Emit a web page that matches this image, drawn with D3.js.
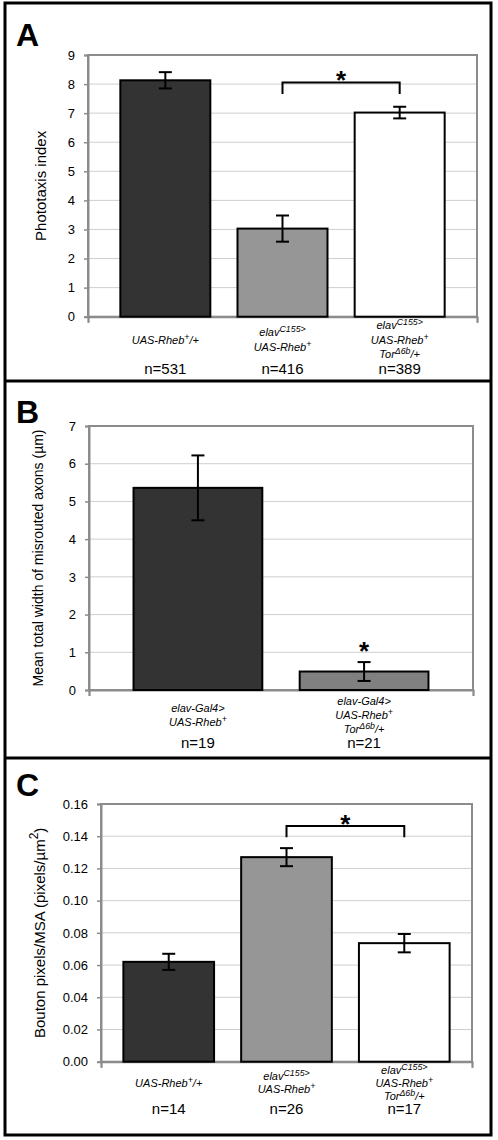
<!DOCTYPE html>
<html><head><meta charset="utf-8">
<script src="https://cdn.jsdelivr.net/npm/d3@7"></script>
<style>
body{margin:0;background:#fff}
text{font-family:"Liberation Sans",Arial,Helvetica,sans-serif}
</style>
</head><body>
<svg id="chart" width="498" height="1140"></svg>
<script>
// ---------- data ----------
const categoriesA = ["UAS-Rheb^{+}/+", "elav^{C155>}|UAS-Rheb^{+}", "elav^{C155>}|UAS-Rheb^{+}|Tor^{Δ6b}/+"];
const valuesA = [8.13, 3.03, 7.02];
const errorsA = [0.28, 0.45, 0.20];
const countsA = ["n=531", "n=416", "n=389"];
const ticksA = [0, 1, 2, 3, 4, 5, 6, 7, 8, 9];

const categoriesB = ["elav-Gal4>|UAS-Rheb^{+}", "elav-Gal4>|UAS-Rheb^{+}|Tor^{Δ6b}/+"];
const valuesB = [5.36, 0.49];
const errorsB = [0.86, 0.25];
const countsB = ["n=19", "n=21"];
const ticksB = [0, 1, 2, 3, 4, 5, 6, 7];

const categoriesC = ["UAS-Rheb^{+}/+", "elav^{C155>}|UAS-Rheb^{+}", "elav^{C155>}|UAS-Rheb^{+}|Tor^{Δ6b}/+"];
const valuesC = [0.062, 0.127, 0.0736];
const errorsC = [0.005, 0.0056, 0.0057];
const countsC = ["n=14", "n=26", "n=17"];
const ticksC = [0, 0.02, 0.04, 0.06, 0.08, 0.10, 0.12, 0.14, 0.16];

// ---------- drawing ----------
const svg = d3.select("#chart");
svg.append("rect").attr("width", 498).attr("height", 1140).attr("fill", "#fff");

// appends a line with ^{...} superscripts into a text element
function richLine(textSel, str, size) {
  const parts = str.split(/(\^\{[^}]*\})/).filter(s => s.length);
  let up = false;
  parts.forEach(p => {
    const m = p.match(/^\^\{([^}]*)\}$/);
    if (m) {
      textSel.append("tspan").attr("dy", -size * 0.36).attr("font-size", size * 0.8).text(m[1]);
      up = true;
    } else {
      const t = textSel.append("tspan");
      if (up) { t.attr("dy", size * 0.36); up = false; }
      t.text(p);
    }
  });
}

function panel(cfg) {
  const g = svg.append("g");
  const y = d3.scaleLinear().domain(cfg.domain).range([cfg.bottom, cfg.top]);
  const x = d3.scaleBand().domain(d3.range(cfg.values.length))
    .range([cfg.left, cfg.right]).paddingInner(cfg.padIn).paddingOuter(cfg.padOut);

  // gridlines
  g.selectAll(".grid").data(cfg.ticks.slice(1)).enter().append("line")
    .attr("x1", cfg.left).attr("x2", cfg.right)
    .attr("y1", d => y(d)).attr("y2", d => y(d))
    .attr("stroke", "#cfcfcf").attr("stroke-width", 1);

  // plot frame
  g.append("rect").attr("x", cfg.left).attr("y", cfg.top)
    .attr("width", cfg.right - cfg.left).attr("height", cfg.bottom - cfg.top)
    .attr("fill", "none").attr("stroke", "#8c8c8c").attr("stroke-width", 2);

  // y axis
  const yAxis = d3.axisLeft(y).tickValues(cfg.ticks).tickFormat(cfg.fmt).tickSize(4).tickPadding(9);
  const ya = g.append("g").attr("transform", `translate(${cfg.left},0)`).call(yAxis);
  ya.select(".domain").attr("stroke", "#8c8c8c").attr("stroke-width", 2);
  ya.selectAll(".tick line").attr("stroke", "#8c8c8c").attr("stroke-width", 1.5);
  ya.selectAll(".tick text").attr("font-size", cfg.tickSize).attr("fill", "#000")
    .style("font-family", '"Liberation Sans",Arial,sans-serif');

  // x axis end ticks
  const xAxis = d3.axisBottom(d3.scaleLinear().domain([0, 1]).range([cfg.left, cfg.right]))
    .tickValues([0, 1]).tickFormat("").tickSize(6);
  const xa = g.append("g").attr("transform", `translate(0,${cfg.bottom})`).call(xAxis);
  xa.select(".domain").attr("stroke", "#8c8c8c").attr("stroke-width", 2);
  xa.selectAll(".tick line").attr("stroke", "#8c8c8c").attr("stroke-width", 1.5);

  // bars
  g.selectAll(".bar").data(cfg.values).enter().append("rect")
    .attr("x", (d, i) => x(i)).attr("width", x.bandwidth())
    .attr("y", d => y(d)).attr("height", d => y(cfg.domain[0]) - y(d))
    .attr("fill", (d, i) => cfg.fills[i]).attr("stroke", "#000").attr("stroke-width", 2);

  // error bars
  const cap = 6.5;
  cfg.values.forEach((v, i) => {
    const cx = x(i) + x.bandwidth() / 2;
    const e = cfg.errors[i];
    g.append("line").attr("x1", cx).attr("x2", cx).attr("y1", y(v + e)).attr("y2", y(v - e))
      .attr("stroke", "#000").attr("stroke-width", 2);
    [v + e, v - e].forEach(w => g.append("line").attr("x1", cx - cap).attr("x2", cx + cap)
      .attr("y1", y(w)).attr("y2", y(w)).attr("stroke", "#000").attr("stroke-width", 2));
  });

  // category labels
  cfg.cats.forEach((c, i) => {
    const lines = c.split("|");
    const cx = x(i) + x.bandwidth() / 2;
    const n = lines.length;
    lines.forEach((ln, k) => {
      const by = cfg.bottom + cfg.labelMid + (k - (n - 1) / 2) * cfg.lh;
      const t = g.append("text").attr("x", cx).attr("y", by).attr("text-anchor", "middle")
        .attr("font-size", 11).attr("font-style", "italic").attr("fill", "#000");
      richLine(t, ln, 11);
    });
    g.append("text").attr("x", cx).attr("y", cfg.bottom + cfg.nOff).attr("text-anchor", "middle")
      .attr("font-size", 15).attr("fill", "#000").text(cfg.counts[i]);
  });

  // y title
  const tt = g.append("text").attr("transform", `translate(${cfg.titleX},${(cfg.top + cfg.bottom) / 2}) rotate(-90)`)
    .attr("text-anchor", "middle").attr("dominant-baseline", "central")
    .attr("font-size", cfg.titleSize).attr("fill", "#000");
  richLine(tt, cfg.title, cfg.titleSize);

  // panel letter
  g.append("text").attr("x", 16).attr("y", cfg.letterY).attr("font-size", 32)
    .attr("font-weight", "bold").attr("fill", "#000").text(cfg.letter);

  // significance
  if (cfg.bracket) {
    const [a, b, lev, drop] = cfg.bracket;
    const xa1 = x(a) + x.bandwidth() / 2, xb1 = x(b) + x.bandwidth() / 2;
    g.append("path").attr("d", `M${xa1},${y(lev - drop)}V${y(lev)}H${xb1}V${y(lev - drop)}`)
      .attr("fill", "none").attr("stroke", "#000").attr("stroke-width", 2);
    g.append("text").attr("x", (xa1 + xb1) / 2).attr("y", y(lev) - 7.5 + 14)
      .attr("text-anchor", "middle").attr("font-size", 26).attr("font-weight", "bold").text("*");
  }
  if (cfg.star !== undefined) {
    const i = cfg.star;
    const cx = x(i) + x.bandwidth() / 2;
    g.append("text").attr("x", cx).attr("y", y(cfg.values[i] + cfg.errors[i]) - 16 + 14)
      .attr("text-anchor", "middle").attr("font-size", 26).attr("font-weight", "bold").text("*");
  }
}

panel({
  cats: categoriesA, values: valuesA, errors: errorsA, counts: countsA, ticks: ticksA,
  domain: [0, 9], fmt: d3.format("d"), left: 88, right: 477, top: 55, bottom: 316.7,
  padIn: 0.232, padOut: 0.276, fills: ["#333333", "#969696", "#ffffff"],
  labelMid: 27, lh: 14.5, nOff: 57, title: "Phototaxis index", titleX: 40, titleSize: 15,
  tickSize: 13, letter: "A", letterY: 46, bracket: [1, 2, 8.05, 0.39]
});
panel({
  cats: categoriesB, values: valuesB, errors: errorsB, counts: countsB, ticks: ticksB,
  domain: [0, 7], fmt: d3.format("d"), left: 89, right: 473, top: 426, bottom: 690,
  padIn: 0.225, padOut: 0.268, fills: ["#333333", "#808080"],
  labelMid: 28.5, lh: 14, nOff: 58, title: "Mean total width of misrouted axons (µm)", titleX: 38, titleSize: 14,
  tickSize: 13, letter: "B", letterY: 423, star: 1
});
panel({
  cats: categoriesC, values: valuesC, errors: errorsC, counts: countsC, ticks: ticksC,
  domain: [0, 0.16], fmt: d3.format(".2f"), left: 101, right: 472, top: 804, bottom: 1061.7,
  padIn: 0.23, padOut: 0.19, fills: ["#333333", "#969696", "#ffffff"],
  labelMid: 25, lh: 13, nOff: 52, title: "Bouton pixels/MSA (pixels/µm^{2})", titleX: 39, titleSize: 15,
  tickSize: 13, letter: "C", letterY: 796, bracket: [1, 2, 0.1463, 0.007]
});

// outer frame and dividers
svg.append("rect").attr("x", 5).attr("y", 3).attr("width", 486).attr("height", 1132)
  .attr("fill", "none").attr("stroke", "#000").attr("stroke-width", 3);
[381, 758].forEach(yy => svg.append("line").attr("x1", 5).attr("x2", 491).attr("y1", yy).attr("y2", yy)
  .attr("stroke", "#000").attr("stroke-width", 3));
</script>
</body></html>
